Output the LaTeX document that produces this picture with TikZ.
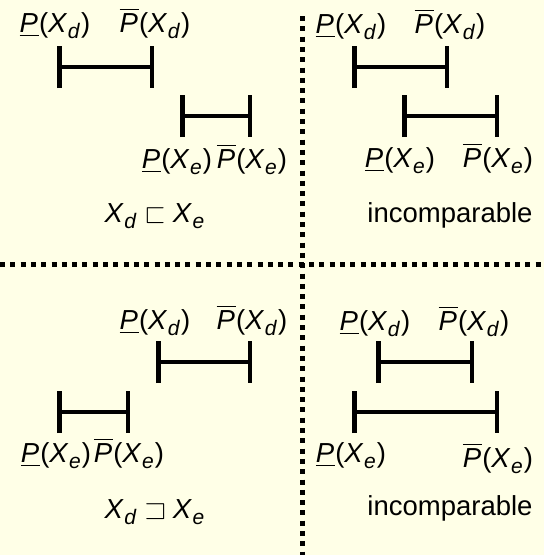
\documentclass[tikz,border=0pt]{standalone}
\usepackage{fontspec}
\usepackage{amssymb}
\setmainfont{Liberation Sans}
\usetikzlibrary{arrows.meta}

\definecolor{bgyellow}{RGB}{255,255,231}

% lower and upper probability labels
\newcommand{\subidx}[1]{\kern0.5pt\raisebox{-0.22em}{\fontsize{21}{21}\selectfont\textit{#1}}\kern1pt}
\newcommand{\lowP}[1]{\underline{\textit{P}\kern1pt}(\textit{X}\subidx{#1})}
\newcommand{\uppP}[1]{$\overline{\mbox{\textit{P}\kern1pt}}$(\textit{X}\subidx{#1})}
\newcommand{\setX}[1]{\textit{X}\subidx{#1}}

\begin{document}
\begin{tikzpicture}[
    x=1pt, y=-1pt,
    lbl/.style={anchor=base, inner sep=0pt, font=\fontsize{27.5}{32}\selectfont},
    interval/.style={line width=4.5pt, {Bar[width=42pt]}-{Bar[width=42pt]}},
    divider/.style={line width=5pt, dash pattern=on 5pt off 5.3pt}
]

% Hintergrund
\fill[bgyellow] (0,0) rectangle (544,555);
\useasboundingbox (0,0) rectangle (544,555);

% Trennlinien
\coordinate (hl) at (0,264);
\coordinate (hr) at (544,264);
\coordinate (vt) at (302,16);
\coordinate (vb) at (302,555);
\draw[divider] (hl) -- (hr);
\draw[divider] (vt) -- (vb);

% oben links: Xd sqsubset Xe
\node[lbl] (tlLd) at (55,32) {\lowP{d}};
\node[lbl] (tlUd) at (155,32) {\uppP{d}};
\coordinate (tlD1) at (57,67);
\coordinate (tlD2) at (154,67);
\draw[interval] (tlD1) -- (tlD2);
\coordinate (tlE1) at (180,116);
\coordinate (tlE2) at (252,116);
\draw[interval] (tlE1) -- (tlE2);
\node[lbl] (tlLe) at (177,168) {\lowP{e}};
\node[lbl] (tlUe) at (252,168) {\uppP{e}};
\node[lbl] (tlRel) at (155,222) {\setX{d}\hspace{7pt}$\sqsubset$\hspace{7pt}\setX{e}};

% oben rechts: unvergleichbar
\node[lbl] (trLd) at (351,33) {\lowP{d}};
\node[lbl] (trUd) at (450,33) {\uppP{d}};
\coordinate (trD1) at (352,67);
\coordinate (trD2) at (449,67);
\draw[interval] (trD1) -- (trD2);
\coordinate (trE1) at (402,116);
\coordinate (trE2) at (499,116);
\draw[interval] (trE1) -- (trE2);
\node[lbl] (trLe) at (400,167) {\lowP{e}};
\node[lbl] (trUe) at (498,167) {\uppP{e}};
\node[lbl] (trRel) at (450,222) {incomparable};

% unten links: Xd sqsupset Xe
\node[lbl] (blLd) at (155,329) {\lowP{d}};
\node[lbl] (blUd) at (252,329) {\uppP{d}};
\coordinate (blD1) at (156,362);
\coordinate (blD2) at (252,362);
\draw[interval] (blD1) -- (blD2);
\coordinate (blE1) at (57,412);
\coordinate (blE2) at (130,412);
\draw[interval] (blE1) -- (blE2);
\node[lbl] (blLe) at (56,462) {\lowP{e}};
\node[lbl] (blUe) at (129,462) {\uppP{e}};
\node[lbl] (blRel) at (155,518) {\setX{d}\hspace{7pt}$\sqsupset$\hspace{7pt}\setX{e}};

% unten rechts: unvergleichbar
\node[lbl] (brLd) at (375,330) {\lowP{d}};
\node[lbl] (brUd) at (474,330) {\uppP{d}};
\coordinate (brD1) at (376,362);
\coordinate (brD2) at (474,362);
\draw[interval] (brD1) -- (brD2);
\coordinate (brE1) at (352,412);
\coordinate (brE2) at (499,412);
\draw[interval] (brE1) -- (brE2);
\node[lbl] (brLe) at (351,462) {\lowP{e}};
\node[lbl] (brUe) at (498,467) {\uppP{e}};
\node[lbl] (brRel) at (450,515) {incomparable};

\end{tikzpicture}
\end{document}
